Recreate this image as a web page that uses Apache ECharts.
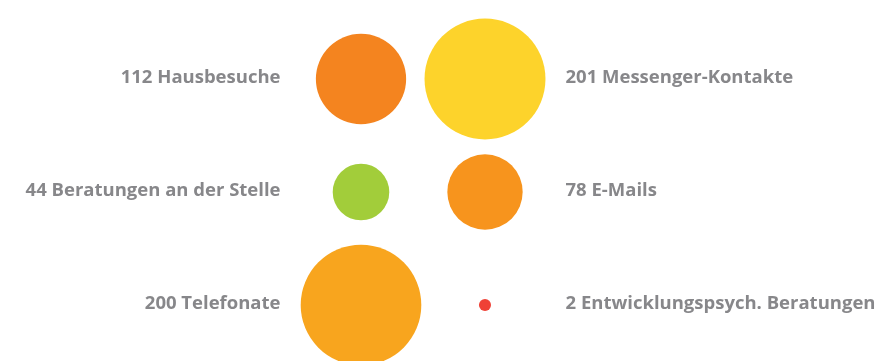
<!DOCTYPE html>
<html>
<head>
<meta charset="utf-8">
<script src="https://cdn.jsdelivr.net/npm/echarts@6/dist/echarts.min.js"></script>
<style>
html,body{margin:0;padding:0;background:#fff;}
#c{width:879px;height:361px;}
</style>
</head>
<body>
<div id="c"></div>
<script>
var labels = ['Hausbesuche', 'Messenger-Kontakte', 'Beratungen an der Stelle', 'E-Mails', 'Telefonate', 'Entwicklungspsych. Beratungen'];
var values = [112, 201, 44, 78, 200, 2];
var columns = [0, 1, 0, 1, 0, 1];
var rows = [0, 0, 1, 1, 2, 2];
var colors = ['#F4841F', '#FDD32B', '#A2CD3A', '#F7941D', '#F8A51E', '#EF4136'];

var bubbleData = values.map(function (v, i) {
  return { value: [columns[i], rows[i], v], itemStyle: { color: colors[i], opacity: 1 } };
});
var labelData = values.map(function (v, i) {
  return {
    value: [columns[i], rows[i], v],
    name: v + ' ' + labels[i],
    label: { position: columns[i] === 0 ? 'left' : 'right' }
  };
});

var chart = echarts.init(document.getElementById('c'), null, { renderer: 'canvas' });
chart.setOption({
  animation: false,
  grid: { left: 361, width: 124, top: 79, height: 226 },
  xAxis: { type: 'value', min: 0, max: 1, show: false },
  yAxis: { type: 'value', min: 0, max: 2, inverse: true, show: false },
  series: [
    {
      type: 'scatter',
      data: bubbleData,
      symbolSize: function (d) { return 8.53 * Math.sqrt(d[2]); },
      itemStyle: { opacity: 1 },
      silent: true,
      z: 2
    },
    {
      type: 'scatter',
      data: labelData,
      symbolSize: 1,
      itemStyle: { color: 'rgba(0,0,0,0)', opacity: 1 },
      silent: true,
      z: 3,
      label: {
        show: true,
        distance: 80,
        offset: [0, -1],
        formatter: '{b}',
        color: '#87878A',
        fontFamily: 'Open Sans',
        fontWeight: 'bold',
        fontSize: 18.5
      }
    }
  ]
});
</script>
</body>
</html>
